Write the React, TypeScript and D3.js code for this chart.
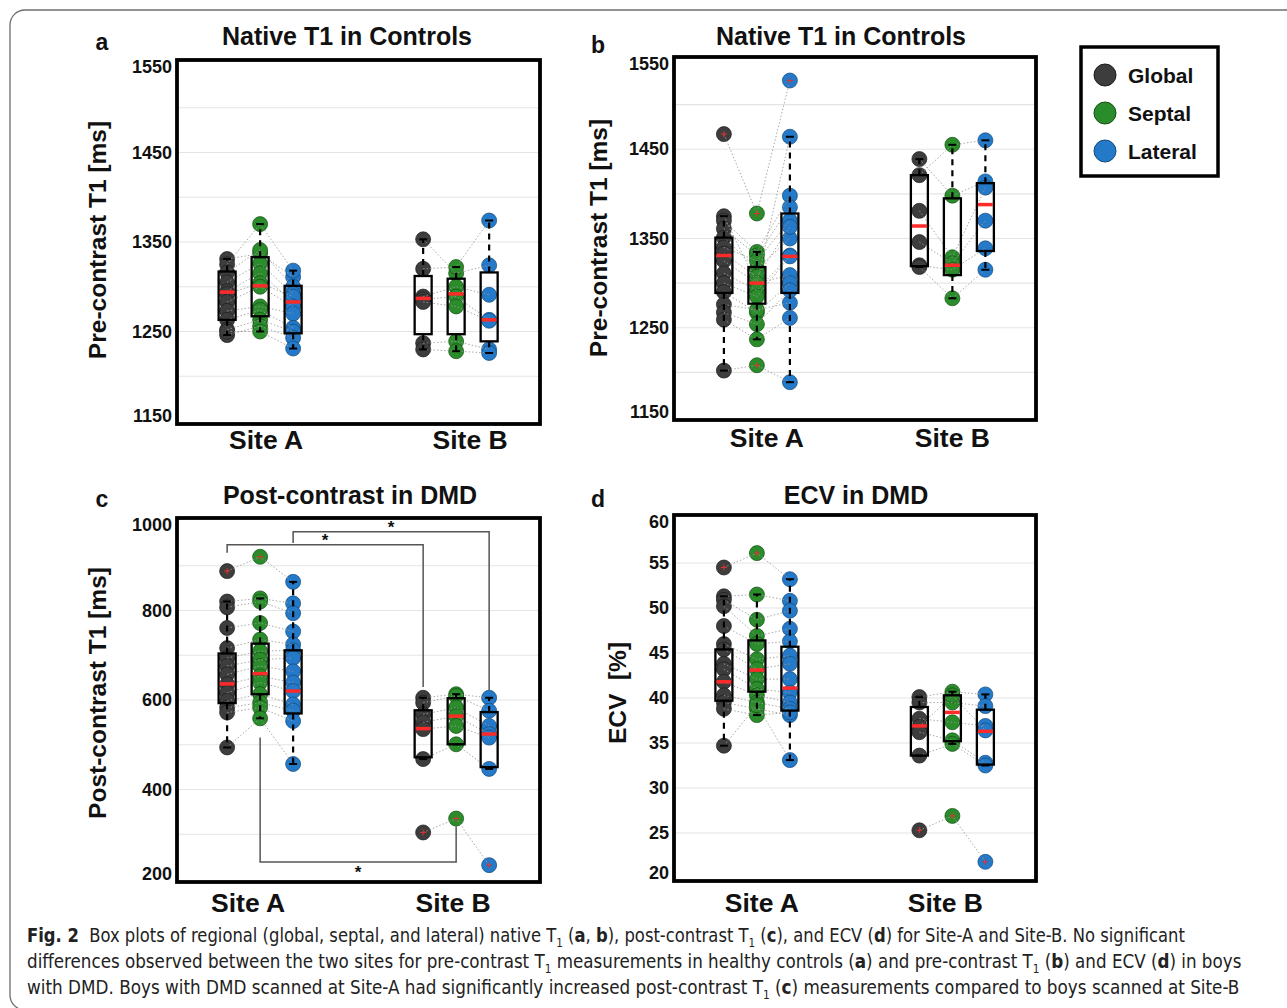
import { useLayoutEffect, useRef, useState } from 'react'
import * as d3 from 'd3'

const SITES = ['Site A', 'Site B']
const REGIONS = ['Global', 'Septal', 'Lateral']
const REGION_FILL = ['#3d3d3d', '#2a8c2a', '#2479c8']
const REGION_STROKE = ['#1c1c1c', '#165016', '#144a7a']

// one row per subject: [global, septal, lateral]
const A_SITE_A = [
  [1331, 1337, 1311],
  [1325, 1370, 1318],
  [1316, 1341, 1300],
  [1305, 1326, 1292],
  [1295, 1315, 1283],
  [1292, 1304, 1289],
  [1283, 1300, 1278],
  [1273, 1278, 1270],
  [1263, 1274, 1254],
  [1252, 1263, 1250],
  [1246, 1256, 1243],
  [1250, 1250, 1231],
]
const A_SITE_B = [
  [1353, 1315, 1324],
  [1320, 1322, 1374],
  [1289, 1300, 1291],
  [1286, 1289, 1263],
  [1283, 1278, 1262],
  [1237, 1239, 1230],
  [1230, 1228, 1226],
]
// [low whisker, q1, median, q3, high whisker] for A-global, A-septal, A-lateral, B-global, B-septal, B-lateral
const A_BOXES = [
  [1246, 1263, 1294, 1317, 1331],
  [1250, 1267, 1301, 1333, 1370],
  [1231, 1248, 1283, 1301, 1318],
  [1230, 1247, 1287, 1312, 1353],
  [1228, 1247, 1292, 1309, 1322],
  [1226, 1239, 1263, 1316, 1374],
]

const B_SITE_A = [
  [1467, 1378, 1527],
  [1375, 1300, 1464],
  [1370, 1335, 1398],
  [1361, 1331, 1385],
  [1351, 1316, 1350],
  [1340, 1325, 1370],
  [1333, 1307, 1363],
  [1325, 1300, 1309],
  [1311, 1292, 1331],
  [1300, 1285, 1330],
  [1290, 1267, 1300],
  [1276, 1270, 1278],
  [1267, 1254, 1292],
  [1259, 1237, 1261],
  [1202, 1208, 1189],
]
const B_SITE_B = [
  [1439, 1398, 1414],
  [1421, 1455, 1460],
  [1381, 1329, 1407],
  [1346, 1322, 1370],
  [1320, 1315, 1339],
  [1318, 1283, 1315],
]
const B_BOXES = [
  [1202, 1289, 1331, 1351, 1375],
  [1237, 1277, 1300, 1318, 1335],
  [1189, 1289, 1330, 1378, 1464],
  [1318, 1319, 1364, 1421, 1439],
  [1283, 1309, 1320, 1395, 1455],
  [1315, 1336, 1388, 1412, 1460],
]

const C_SITE_A = [
  [888, 920, 864],
  [820, 827, 816],
  [807, 820, 794],
  [761, 772, 753],
  [716, 735, 724],
  [694, 709, 711],
  [676, 690, 694],
  [657, 676, 664],
  [635, 653, 639],
  [616, 639, 620],
  [598, 613, 590],
  [583, 594, 576],
  [572, 583, 553],
  [494, 559, 457],
]
const C_SITE_B = [
  [605, 613, 605],
  [594, 609, 576],
  [568, 583, 542],
  [550, 564, 524],
  [535, 542, 516],
  [468, 501, 446],
  [304, 335, 231],
]
const C_BOXES = [
  [494, 593, 636, 704, 820],
  [559, 613, 659, 726, 827],
  [457, 570, 620, 711, 864],
  [468, 472, 536, 577, 605],
  [501, 501, 564, 604, 613],
  [446, 450, 524, 573, 605],
]
// significance brackets: [region, level, Site A end, Site B end]
const C_BRACKETS = [
  [0, 947, 929, 629],
  [2, 976, 951, 622],
  [1, 238, 516, 318],
]

const D_SITE_A = [
  [54.5, 56.1, 53.2],
  [51.3, 51.5, 50.8],
  [50.9, 48.7, 49.7],
  [50.2, 46.9, 47.7],
  [48.0, 46.0, 46.3],
  [46.0, 44.3, 44.7],
  [45.4, 43.2, 43.8],
  [43.8, 42.1, 42.1],
  [43.2, 41.0, 40.6],
  [41.8, 40.3, 39.5],
  [40.3, 39.5, 38.8],
  [39.5, 38.8, 38.1],
  [38.8, 38.1, 38.4],
  [34.7, 39.2, 33.1],
]
const D_SITE_B = [
  [40.1, 40.7, 40.4],
  [39.5, 39.5, 39.1],
  [37.7, 37.3, 36.9],
  [36.8, 40.3, 36.4],
  [36.2, 35.3, 32.8],
  [33.6, 34.9, 32.5],
  [25.3, 26.9, 21.8],
]
const D_BOXES = [
  [34.7, 39.7, 41.8, 45.4, 51.3],
  [38.1, 40.7, 43.1, 46.4, 51.5],
  [33.1, 38.6, 41.1, 45.7, 53.2],
  [33.6, 33.6, 36.9, 39.0, 40.1],
  [34.9, 35.2, 38.4, 40.3, 40.7],
  [32.5, 32.6, 36.3, 38.7, 40.4],
]

const CAPTION = [
  '**Fig. 2**  Box plots of regional (global, septal, and lateral) native T_1 (**a**, **b**), post-contrast T_1 (**c**), and ECV (**d**) for Site-A and Site-B. No significant',
  'differences observed between the two sites for pre-contrast T_1 measurements in healthy controls (**a**) and pre-contrast T_1 (**b**) and ECV (**d**) in boys',
  'with DMD. Boys with DMD scanned at Site-A had significantly increased post-contrast T_1 (**c**) measurements compared to boys scanned at Site-B',
]
const CAPTION_ENDS = [1185, 1242, 1240]

const FONT = '"Liberation Sans", Arial, Helvetica, sans-serif'

const PANELS = [
  {
    letter: 'a', title: 'Native T1 in Controls', ylabel: 'Pre-contrast T1 [ms]',
    domain: [1150, 1550], tickStep: 100, gridStep: 50,
    box: { x: 177, y: 60, w: 363, h: 364 },
    letterPos: [102, 50], titleX: 347, titleY: 45, ylabelPos: [97, 240],
    siteLabelY: 449, siteLabelDx: [6, 14],
    sites: [A_SITE_A, A_SITE_B], boxes: A_BOXES, brackets: [] as number[][],
  },
  {
    letter: 'b', title: 'Native T1 in Controls', ylabel: 'Pre-contrast T1 [ms]',
    domain: [1150, 1550], tickStep: 100, gridStep: 50,
    box: { x: 674, y: 57, w: 362, h: 363 },
    letterPos: [598, 53], titleX: 841, titleY: 45, ylabelPos: [598, 238],
    siteLabelY: 447, siteLabelDx: [10, 0],
    sites: [B_SITE_A, B_SITE_B], boxes: B_BOXES, brackets: [] as number[][],
  },
  {
    letter: 'c', title: 'Post-contrast in DMD', ylabel: 'Post-contrast T1 [ms]',
    domain: [200, 1000], tickStep: 200, gridStep: 100,
    box: { x: 177, y: 518, w: 363, h: 364 },
    letterPos: [102, 507], titleX: 350, titleY: 504, ylabelPos: [97, 693],
    siteLabelY: 912, siteLabelDx: [-12, -3],
    sites: [C_SITE_A, C_SITE_B], boxes: C_BOXES, brackets: C_BRACKETS,
  },
  {
    letter: 'd', title: 'ECV in DMD', ylabel: 'ECV  [%]',
    domain: [20, 60], tickStep: 5, gridStep: 5,
    box: { x: 674, y: 515, w: 362, h: 366 },
    letterPos: [598, 507], titleX: 856, titleY: 504, ylabelPos: [617, 693],
    siteLabelY: 912, siteLabelDx: [5, -7],
    sites: [D_SITE_A, D_SITE_B], boxes: D_BOXES, brackets: [] as number[][],
  },
]

type PanelDef = (typeof PANELS)[number]

const Panel = ({ p }: { p: PanelDef }) => {
  const { box } = p
  const y = d3.scaleLinear().domain(p.domain).range([box.y + box.h - 3, box.y + 3])
  const xSite = d3.scalePoint<string>().domain(SITES).range([box.x + box.w * 0.229, box.x + box.w * 0.769])
  const xReg = d3.scalePoint<string>().domain(REGIONS).range([-33, 33])
  const cx = (s: number, r: number) => (xSite(SITES[s]) as number) + (xReg(REGIONS[r]) as number)

  const ticks = d3.range(p.domain[0], p.domain[1] + 0.001, p.tickStep)
  const grid = d3.range(p.domain[0] + p.gridStep, p.domain[1] - 0.001, p.gridStep)
  const line = d3.line()
  const bw = 17
  const r = 7.5

  return (
    <g>
      {grid.map(g => (
        <line key={g} x1={box.x} x2={box.x + box.w} y1={y(g)} y2={y(g)} stroke="#e4e4e4" strokeWidth={1.2} />
      ))}

      {p.sites.map((subjects, s) => (
        <g key={'pts' + s}>
          {REGIONS.map((_, ri) =>
            subjects.map((row, k) => (
              <circle key={ri + '-' + k} cx={cx(s, ri)} cy={y(row[ri])} r={r}
                fill={REGION_FILL[ri]} stroke={REGION_STROKE[ri]} strokeWidth={0.7} />
            ))
          )}
          {subjects.map((row, k) => (
            <path key={'l' + k}
              d={line(row.map((v, ri) => [cx(s, ri), y(v)] as [number, number])) || ''}
              fill="none" stroke="#9a9a9a" strokeWidth={1} strokeDasharray="1.5,2" opacity={0.85} />
          ))}
        </g>
      ))}

      {p.boxes.map((b, i) => {
        const s = Math.floor(i / 3)
        const ri = i % 3
        const x = cx(s, ri)
        const [lo, q1, med, q3, hi] = b
        const subjects = p.sites[s]
        const outliers = subjects.map(row => row[ri]).filter(v => v > hi + 1e-6 || v < lo - 1e-6)
        return (
          <g key={'box' + i}>
            <line x1={x} x2={x} y1={y(q3)} y2={y(hi)} stroke="#000" strokeWidth={2.2} strokeDasharray="6,5" />
            <line x1={x} x2={x} y1={y(q1)} y2={y(lo)} stroke="#000" strokeWidth={2.2} strokeDasharray="6,5" />
            <line x1={x - 4} x2={x + 4} y1={y(hi)} y2={y(hi)} stroke="#000" strokeWidth={2} />
            <line x1={x - 4} x2={x + 4} y1={y(lo)} y2={y(lo)} stroke="#000" strokeWidth={2} />
            <rect x={x - bw / 2} y={y(q3)} width={bw} height={y(q1) - y(q3)} fill="none" stroke="#000" strokeWidth={2.3} />
            <line x1={x - bw / 2 + 1} x2={x + bw / 2 - 1} y1={y(med)} y2={y(med)} stroke="#ff2a2a" strokeWidth={3.5} />
            {outliers.map((v, k) => (
              <g key={k} stroke="#e03030" strokeWidth={1}>
                <line x1={x - 3} x2={x + 3} y1={y(v)} y2={y(v)} />
                <line x1={x} x2={x} y1={y(v) - 3} y2={y(v) + 3} />
              </g>
            ))}
          </g>
        )
      })}

      <rect x={box.x} y={box.y} width={box.w} height={box.h} fill="none" stroke="#000" strokeWidth={3.8} />

      {p.brackets.map((br, i) => {
        const [ri, level, endA, endB] = br
        const x1 = cx(0, ri)
        const x2 = cx(1, ri)
        const above = level > endA
        return (
          <g key={'br' + i}>
            <path d={`M${x1},${y(endA)}V${y(level)}H${x2}V${y(endB)}`} fill="none" stroke="#555" strokeWidth={1.5} />
            <text x={(x1 + x2) / 2} y={above ? y(level) + 1 : y(level) + 16} textAnchor="middle"
              fontFamily={FONT} fontWeight="bold" fontSize={17} fill="#111">*</text>
          </g>
        )
      })}

      {ticks.map((t, i) => (
        <text key={'t' + t} x={box.x - 5} y={y(t) + (i === ticks.length - 1 ? 4 : i === 0 ? -5 : 0)}
          dominantBaseline="central" textAnchor="end" fontFamily={FONT} fontWeight="bold" fontSize={18}
          fill="#111">{t}</text>
      ))}

      {SITES.map((s, i) => (
        <text key={s} x={(xSite(s) as number) + p.siteLabelDx[i]} y={p.siteLabelY} textAnchor="middle"
          fontFamily={FONT} fontWeight="bold" fontSize={26.5} fill="#111">{s}</text>
      ))}

      <text x={p.titleX} y={p.titleY} textAnchor="middle" fontFamily={FONT} fontWeight="bold" fontSize={25} fill="#111">{p.title}</text>
      <text x={p.letterPos[0]} y={p.letterPos[1]} textAnchor="middle" fontFamily={FONT} fontWeight="bold" fontSize={23} fill="#111">{p.letter}</text>
      <text transform={`translate(${p.ylabelPos[0]},${p.ylabelPos[1]}) rotate(-90)`} textAnchor="middle"
        dominantBaseline="central" fontFamily={FONT} fontWeight="bold" fontSize={24.5} fill="#111"
        style={{ whiteSpace: 'pre' }}>{p.ylabel}</text>
    </g>
  )
}

const CaptionLine = ({ text, y, end }: { text: string; y: number; end: number }) => {
  const ref = useRef<SVGTextElement>(null)
  const [sx, setSx] = useState(1)
  const x0 = 27

  useLayoutEffect(() => {
    if (!ref.current) return
    const w = ref.current.getComputedTextLength()
    if (w > 0) setSx((end - x0) / w)
  }, [text, end])

  const parts = text.split(/(\*\*[^*]+\*\*|_1)/).filter(Boolean)
  let shiftBack = false
  const spans = parts.map((part, i) => {
    if (part === '_1') {
      shiftBack = true
      return <tspan key={i} dy={5} fontSize={12}>1</tspan>
    }
    const dy = shiftBack ? -5 : undefined
    shiftBack = false
    if (part.startsWith('**')) {
      return <tspan key={i} dy={dy} fontWeight="bold">{part.slice(2, -2)}</tspan>
    }
    return <tspan key={i} dy={dy}>{part}</tspan>
  })
  return (
    <g transform={`translate(${x0},${y}) scale(${sx},1)`}>
      <text ref={ref} x={0} y={0} fontFamily='"DejaVu Sans Condensed", "Liberation Sans", sans-serif'
        fontSize={19} fill="#222" style={{ whiteSpace: 'pre' }}>
        {spans}
      </text>
    </g>
  )
}

export default function App() {
  const legendY = d3.scalePoint<string>().domain(REGIONS).range([75, 151])
  return (
    <svg width={1287} height={1008} style={{ position: 'absolute', left: 0, top: 0, background: '#fff' }}>
      <rect x={0} y={0} width={1287} height={1008} fill="#fff" />
      <rect x={10} y={10} width={1310} height={1000} rx={15} fill="none" stroke="#6d6d6d" strokeWidth={1.3} />

      {PANELS.map(p => <Panel key={p.letter} p={p} />)}

      <rect x={1081} y={47} width={137} height={129} fill="#fff" stroke="#000" strokeWidth={3.5} />
      {REGIONS.map((reg, i) => (
        <g key={reg}>
          <circle cx={1105} cy={legendY(reg)} r={11} fill={REGION_FILL[i]} stroke={REGION_STROKE[i]} strokeWidth={1} />
          <text x={1128} y={legendY(reg)} dominantBaseline="central" fontFamily={FONT} fontWeight="bold" fontSize={21} fill="#111">{reg}</text>
        </g>
      ))}

      {CAPTION.map((c, i) => (
        <CaptionLine key={i} text={c} y={942 + i * 26} end={CAPTION_ENDS[i]} />
      ))}
    </svg>
  )
}
